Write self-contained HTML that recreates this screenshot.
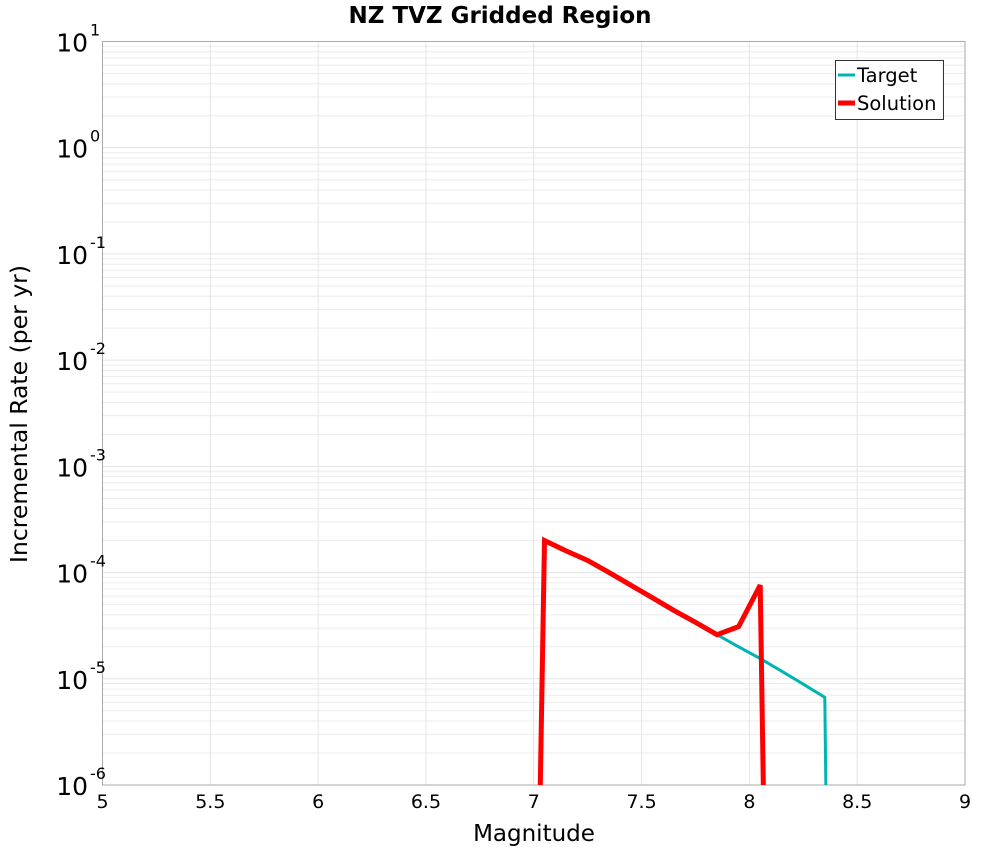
<!DOCTYPE html>
<html><head><meta charset="utf-8"><style>
html,body{margin:0;background:#fff;font-family:"DejaVu Sans","Liberation Sans",sans-serif;overflow:hidden;width:1000px;height:850px;}
svg{display:block;}
svg text{font-family:"DejaVu Sans","Liberation Sans",sans-serif;}
</style></head><body>
<svg id="chart" width="1000" height="850" xmlns="http://www.w3.org/2000/svg">
<defs><clipPath id="clip"><rect x="102.5" y="41.5" width="862.5" height="743.5"/></clipPath></defs>
<g id="grid"></g>
<rect x="102.5" y="41.5" width="862.5" height="743.5" fill="none" stroke="#aaa"/>
<g id="ticks"></g>
<g id="series" clip-path="url(#clip)"></g>
<text x="500" y="23" text-anchor="middle" font-size="23" font-weight="bold">NZ TVZ Gridded Region</text>
<text x="534" y="841" text-anchor="middle" font-size="23">Magnitude</text>
<text transform="translate(27,414) rotate(-90)" text-anchor="middle" font-size="23.5">Incremental Rate (per yr)</text>
<g>
<rect x="835.5" y="60.5" width="108" height="59" fill="#fff" stroke="#333"/>
<g><line x1="838" y1="75" x2="855" y2="75" stroke="#00b4b4" stroke-width="3"/><text x="857" y="82" font-size="19.5">Target</text></g>
<g><line x1="838" y1="103" x2="855" y2="103" stroke="#ff0000" stroke-width="5"/><text x="857" y="110" font-size="19.5">Solution</text></g>
</g>
</svg>
<script>
const xTicks=[5,5.5,6,6.5,7,7.5,8,8.5,9];
const yExps=[1,0,-1,-2,-3,-4,-5,-6];
const targetMag=[7.03,7.05,7.15,7.25,7.35,7.45,7.55,7.65,7.75,7.85,7.95,8.05,8.15,8.25,8.35,8.355];
const targetRate=[9e-7,2.0e-4,1.6e-4,1.3e-4,1.0e-4,7.6e-5,5.8e-5,4.4e-5,3.4e-5,2.6e-5,2.0e-5,1.55e-5,1.18e-5,8.9e-6,6.7e-6,9e-7];
const solMag=[7.03,7.05,7.15,7.25,7.35,7.45,7.55,7.65,7.75,7.85,7.95,8.05,8.065];
const solRate=[9e-7,2.0e-4,1.6e-4,1.3e-4,1.0e-4,7.6e-5,5.8e-5,4.4e-5,3.4e-5,2.6e-5,3.1e-5,7.6e-5,9e-7];
const L=102.5,R=965,T=41.5,B=785;
const xs=m=>L+(m-5)/4*(R-L);
const ys=v=>T+(1-Math.log10(v))/7*(B-T);
const NS="http://www.w3.org/2000/svg";
function mk(tag,attrs,parent){const e=document.createElementNS(NS,tag);for(const k in attrs)e.setAttribute(k,attrs[k]);parent.appendChild(e);return e;}
const grid=document.getElementById('grid'),ticks=document.getElementById('ticks'),series=document.getElementById('series');
for(let e=-6;e<1;e++){for(let k=2;k<=9;k++){const y=ys(k*Math.pow(10,e));const l=mk('line',{x1:L,x2:R,y1:y,y2:y,stroke:'#ececec'},grid);

}}
yExps.forEach(e=>{const y=ys(Math.pow(10,e));const l=mk('line',{x1:L,x2:R,y1:y,y2:y,stroke:'#e4e4e4'},grid);


const t=mk('text',{x:88,y:y+10,'text-anchor':'end','font-size':25},ticks);


t.textContent='10';
const s=mk('text',{x:90,y:y-6,'font-size':16},ticks);


s.textContent=String(e);});
xTicks.forEach(m=>{const x=xs(m);const l=mk('line',{x1:x,x2:x,y1:T,y2:B,stroke:'#e4e4e4'},grid);


const t=mk('text',{x:x,y:808,'text-anchor':'middle','font-size':19},ticks);


t.textContent=String(m);});
function path(ms,vs){return ms.map((m,i)=>(i?'L':'M')+xs(m).toFixed(1)+','+ys(vs[i]).toFixed(1)).join(' ');}
const tp=mk('path',{d:path(targetMag,targetRate),fill:'none',stroke:'#00b4b4','stroke-width':3},series);


const sp=mk('path',{d:path(solMag,solRate),fill:'none',stroke:'#ff0000','stroke-width':5,'stroke-linejoin':'miter'},series);


</script>
</body></html>
